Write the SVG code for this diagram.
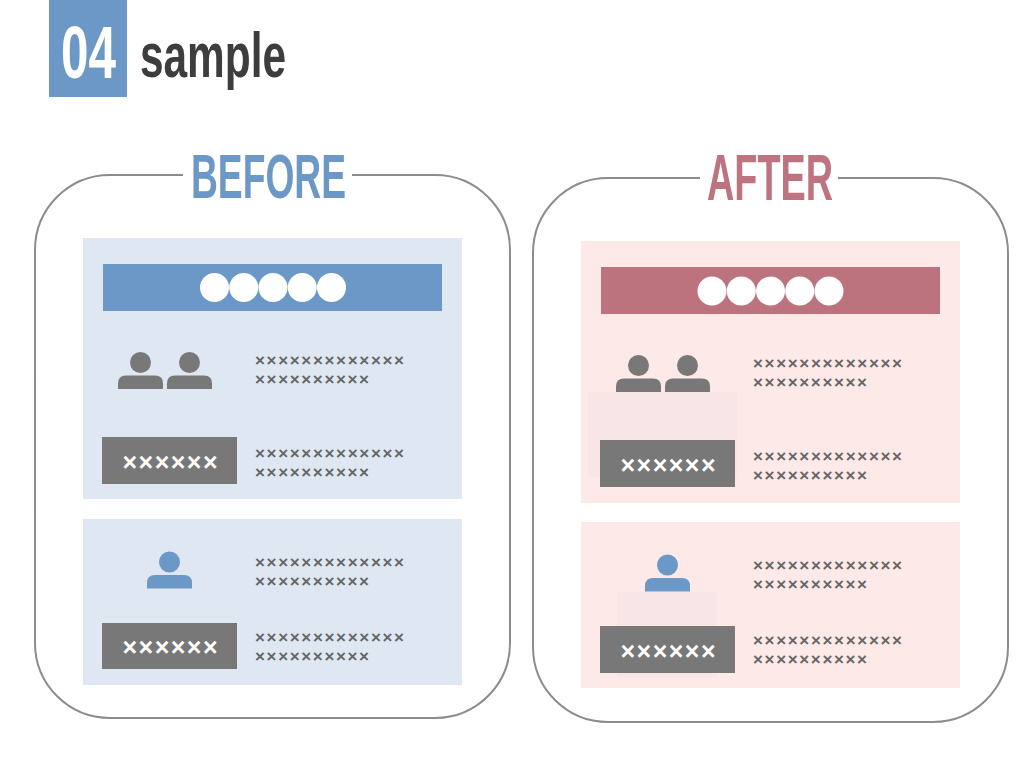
<svg xmlns="http://www.w3.org/2000/svg" width="1024" height="768" viewBox="0 0 1024 768">
  <style>
    .frame { fill: none; stroke: #8c8c8c; stroke-width: 2; }
    .head { font-family: "Liberation Sans", Arial, sans-serif; font-weight: bold; }
    .small { font-family: "Liberation Sans", Arial, sans-serif; font-weight: bold; font-size: 17px; fill: #666666; }
    .btntxt { font-family: "Liberation Sans", Arial, sans-serif; font-weight: bold; font-size: 25px; fill: #ffffff; }
    .btn { fill: #787878; }
    .dot { fill: #ffffff; }
  </style>
  <defs>
    <g id="person">
      <circle cx="0" cy="0" r="10.5"/>
      <path d="M-22.5,26.5 V21 Q-22.5,13 -14.5,13 H14.5 Q22.5,13 22.5,21 V26.5 Z"/>
    </g>
  </defs>
  <rect width="1024" height="768" fill="#ffffff"/>

  <g id="title">
    <rect x="49" y="0" width="78" height="97" fill="#6b98c6"/>
    <text class="head" x="61" y="78" font-size="75" fill="#ffffff" textLength="55" lengthAdjust="spacingAndGlyphs">04</text>
    <text class="head" x="140" y="77" font-size="63" fill="#3d3d3d" textLength="146" lengthAdjust="spacingAndGlyphs">sample</text>
  </g>

  <g id="before">
    <path class="frame" d="M352,175 H435 A75,75 0 0 1 510,250 V643 A75,75 0 0 1 435,718 H110 A75,75 0 0 1 35,643 V250 A75,75 0 0 1 110,175 H183"/>
    <text class="head" x="191" y="198" font-size="63" fill="#6b98c6" textLength="155" lengthAdjust="spacingAndGlyphs">BEFORE</text>

    <g id="before-card1">
      <rect x="83" y="238" width="379" height="261" fill="#dfe8f2"/>
      <rect x="103" y="264" width="339" height="47" fill="#6b98c6"/>
      <circle class="dot" cx="214.5" cy="287.5" r="14.5"/>
      <circle class="dot" cx="243.75" cy="287.5" r="14.5"/>
      <circle class="dot" cx="273" cy="287.5" r="14.5"/>
      <circle class="dot" cx="302.25" cy="287.5" r="14.5"/>
      <circle class="dot" cx="331.5" cy="287.5" r="14.5"/>
      <use href="#person" x="140.5" y="362.5" fill="#787878"/>
      <use href="#person" x="189.5" y="362.5" fill="#787878"/>
      <text class="small" x="255" y="366" textLength="149" lengthAdjust="spacing">×××××××××××××</text>
      <text class="small" x="255" y="385" textLength="114" lengthAdjust="spacing">××××××××××</text>
      <rect class="btn" x="102" y="437" width="135" height="47"/>
      <text class="btntxt" x="170" y="471" text-anchor="middle" textLength="95" lengthAdjust="spacing">××××××</text>
      <text class="small" x="255" y="459" textLength="149" lengthAdjust="spacing">×××××××××××××</text>
      <text class="small" x="255" y="478" textLength="114" lengthAdjust="spacing">××××××××××</text>
    </g>

    <g id="before-card2">
      <rect x="83" y="519" width="379" height="166" fill="#dfe8f2"/>
      <use href="#person" x="169.5" y="562" fill="#6b98c6"/>
      <text class="small" x="255" y="568" textLength="149" lengthAdjust="spacing">×××××××××××××</text>
      <text class="small" x="255" y="587" textLength="114" lengthAdjust="spacing">××××××××××</text>
      <rect class="btn" x="102" y="623" width="135" height="46"/>
      <text class="btntxt" x="170" y="656" text-anchor="middle" textLength="95" lengthAdjust="spacing">××××××</text>
      <text class="small" x="255" y="643" textLength="149" lengthAdjust="spacing">×××××××××××××</text>
      <text class="small" x="255" y="662" textLength="114" lengthAdjust="spacing">××××××××××</text>
    </g>
  </g>

  <g id="after">
    <path class="frame" d="M838,178 H933 A75,75 0 0 1 1008,253 V647 A75,75 0 0 1 933,722 H608 A75,75 0 0 1 533,647 V253 A75,75 0 0 1 608,178 H700"/>
    <text class="head" x="707" y="200" font-size="64" fill="#be7480" textLength="126" lengthAdjust="spacingAndGlyphs">AFTER</text>

    <g id="after-card1">
      <rect x="581" y="241" width="379" height="262" fill="#fde9e8"/>
      <rect x="601" y="267" width="339" height="47" fill="#bd737e"/>
      <circle class="dot" cx="712" cy="291" r="14.5"/>
      <circle class="dot" cx="741.25" cy="291" r="14.5"/>
      <circle class="dot" cx="770.5" cy="291" r="14.5"/>
      <circle class="dot" cx="799.75" cy="291" r="14.5"/>
      <circle class="dot" cx="829" cy="291" r="14.5"/>
      <use href="#person" x="638.5" y="365.5" fill="#787878"/>
      <use href="#person" x="687.5" y="365.5" fill="#787878"/>
      <rect x="588" y="392" width="149" height="85" fill="#f8e5e6"/>
      <text class="small" x="753" y="369" textLength="149" lengthAdjust="spacing">×××××××××××××</text>
      <text class="small" x="753" y="388" textLength="114" lengthAdjust="spacing">××××××××××</text>
      <rect class="btn" x="600" y="440" width="135" height="47"/>
      <text class="btntxt" x="668" y="474" text-anchor="middle" textLength="95" lengthAdjust="spacing">××××××</text>
      <text class="small" x="753" y="462" textLength="149" lengthAdjust="spacing">×××××××××××××</text>
      <text class="small" x="753" y="481" textLength="114" lengthAdjust="spacing">××××××××××</text>
    </g>

    <g id="after-card2">
      <rect x="581" y="522" width="379" height="166" fill="#fde9e8"/>
      <use href="#person" x="667.5" y="565" fill="#6b98c6"/>
      <rect x="617" y="592" width="100" height="85" fill="#f8e5e6"/>
      <text class="small" x="753" y="571" textLength="149" lengthAdjust="spacing">×××××××××××××</text>
      <text class="small" x="753" y="590" textLength="114" lengthAdjust="spacing">××××××××××</text>
      <rect class="btn" x="600" y="626" width="135" height="47"/>
      <text class="btntxt" x="668" y="659.5" text-anchor="middle" textLength="95" lengthAdjust="spacing">××××××</text>
      <text class="small" x="753" y="646" textLength="149" lengthAdjust="spacing">×××××××××××××</text>
      <text class="small" x="753" y="665" textLength="114" lengthAdjust="spacing">××××××××××</text>
    </g>
  </g>

  <g id="connectors"/>
</svg>
